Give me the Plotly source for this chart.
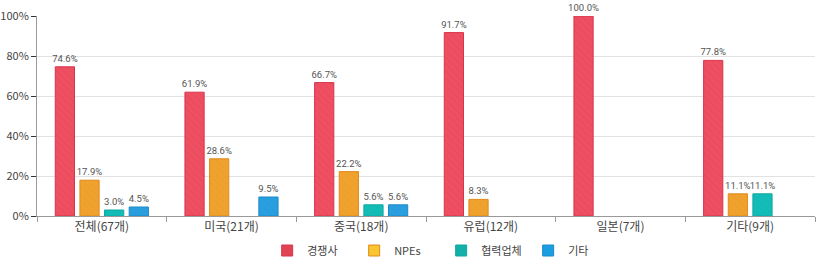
import plotly.graph_objects as go

categories = ["전체(67개)", "미국(21개)", "중국(18개)", "유럽(12개)", "일본(7개)", "기타(9개)"]
series_names = ["경쟁사", "NPEs", "협력업체", "기타"]
competitors = [74.6, 61.9, 66.7, 91.7, 100.0, 77.8]
npes = [17.9, 28.6, 22.2, 8.3, None, 11.1]
partners = [3.0, None, 5.6, None, None, 11.1]
others = [4.5, 9.5, 5.6, None, None, None]
y_ticks = [0, 20, 40, 60, 80, 100]
y_tick_labels = [f"{v}%" for v in y_ticks]

values = [competitors, npes, partners, others]
bar_colors = ["#ee4f61", "#f0a22e", "#12bdb7", "#2a9fdf"]
line_colors = ["#d8344c", "#e08a1c", "#0ea8a2", "#1a8bc8"]
legend_colors = ["#e04454", "#f8c630", "#12b0a8", "#1a9ee0"]

fig = go.Figure()
for name, vals, c, lc in zip(series_names, values, bar_colors, line_colors):
    fig.add_trace(go.Bar(
        x=categories, y=vals, name=name,
        marker=dict(color=c, line=dict(color=lc, width=1),
                    pattern=dict(shape="\\", fgcolor=lc, fgopacity=0.25, size=5, solidity=0.2)),
        text=[None if v is None else f"{v:.1f}%" for v in vals],
        textposition="outside", cliponaxis=False, constraintext="none",
        textfont=dict(family="Roboto, Noto Sans, sans-serif", size=9.5, color="#555555"),
        showlegend=False,
    ))
for name, lgc, lc in zip(series_names, legend_colors, line_colors):
    fig.add_trace(go.Scatter(
        x=[None], y=[None], name=name, mode="markers",
        marker=dict(symbol="square", size=11, color=lgc, line=dict(color=lc, width=1)),
        showlegend=True,
    ))

fig.update_layout(
    width=820, height=260,
    margin=dict(l=37, r=5, t=16, b=44, autoexpand=False),
    paper_bgcolor="white", plot_bgcolor="white",
    font=dict(family="Noto Sans CJK KR, Noto Sans, sans-serif", size=11, color="#444444"),
    barmode="group", bargap=0.24, bargroupgap=0.22,
    legend=dict(orientation="h", x=0.5195, xanchor="center", y=-0.1, yanchor="top",
                entrywidth=42, font=dict(size=11, color="#444444"),
                itemwidth=30, traceorder="normal"),
    showlegend=True,
)
fig.update_xaxes(
    showline=True, linecolor="#999999", linewidth=1,
    ticks="outside", tickcolor="#999999", ticklen=5, tickson="boundaries",
    tickfont=dict(size=12, color="#444444"), showgrid=False,
)
fig.update_yaxes(
    range=[0, 100], tickmode="array", tickvals=y_ticks, ticktext=y_tick_labels,
    showline=True, linecolor="#999999", linewidth=1,
    ticks="outside", tickcolor="#333333", ticklen=5,
    gridcolor="#e2e2e2", gridwidth=1, zeroline=False,
    tickfont=dict(size=11, color="#444444"),
)

fig.write_html("out.html")
